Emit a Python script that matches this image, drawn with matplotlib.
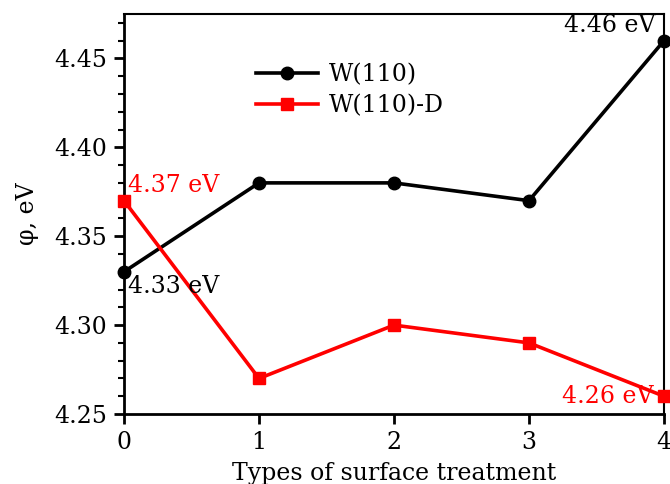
import matplotlib
matplotlib.use('Agg')
import matplotlib.pyplot as plt
from matplotlib.ticker import MultipleLocator

plt.rcParams['font.family'] = 'DejaVu Serif'
plt.rcParams['mathtext.fontset'] = 'dejavuserif'

treatment = [0, 1, 2, 3, 4]
w110 = [4.33, 4.38, 4.38, 4.37, 4.46]
w110_d = [4.37, 4.27, 4.30, 4.29, 4.26]

fig = plt.figure(figsize=(6.7, 4.84), dpi=100)
ax = fig.add_axes([124/670, 70/484, 540/670, 400/484])

ax.plot(treatment, w110, color='black', lw=2.6, marker='o', ms=9,
        clip_on=False, zorder=3, label='W(110)')
ax.plot(treatment, w110_d, color='red', lw=2.6, marker='s', ms=8,
        clip_on=False, zorder=3, label='W(110)-D')

ax.set_xlim(0, 4)
ax.set_ylim(4.25, 4.475)
ax.set_xticks(treatment)
ax.yaxis.set_major_locator(MultipleLocator(0.05))
ax.yaxis.set_minor_locator(MultipleLocator(0.01))
ax.yaxis.set_major_formatter(matplotlib.ticker.FormatStrFormatter('%.2f'))
ax.tick_params(axis='both', which='major', labelsize=17, length=7, width=2,
               direction='out', pad=5)
ax.tick_params(axis='y', which='minor', length=4.5, width=1.5, direction='out')
for s in ['left', 'bottom']:
    ax.spines[s].set_linewidth(2)
for s in ['top', 'right']:
    ax.spines[s].set_linewidth(1.5)

ax.set_xlabel('Types of surface treatment', fontsize=17, labelpad=6)
ax.set_ylabel('φ, eV', fontsize=17, labelpad=11)

ax.text(0.03, 4.372, '4.37 eV', color='red', fontsize=17, ha='left', va='bottom')
ax.text(0.03, 4.328, '4.33 eV', color='black', fontsize=17, ha='left', va='top')
ax.text(3.94, 4.462, '4.46 eV', color='black', fontsize=17, ha='right', va='bottom')
ax.text(3.92, 4.2535, '4.26 eV', color='red', fontsize=17, ha='right', va='bottom')

ax.legend(loc='upper left', bbox_to_anchor=(0.206, 0.93), frameon=False,
          fontsize=17, handlelength=2.6, handletextpad=0.45, labelspacing=0.35)

fig.savefig('out.png', dpi=100)
